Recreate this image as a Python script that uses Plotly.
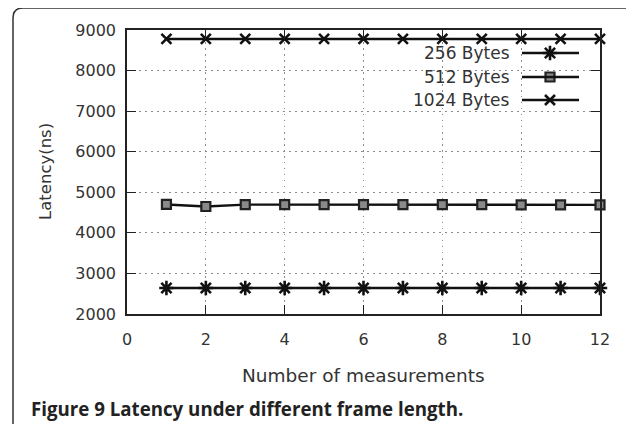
import plotly.graph_objects as go

measurements = list(range(1, 13))
lat_256 = [2640, 2640, 2640, 2640, 2640, 2640, 2640, 2640, 2640, 2640, 2640, 2640]
lat_512 = [4700, 4650, 4695, 4695, 4695, 4695, 4695, 4695, 4695, 4690, 4690, 4690]
lat_1024 = [8780, 8780, 8780, 8780, 8780, 8780, 8780, 8780, 8780, 8780, 8780, 8780]
series_names = ["256 Bytes", "512 Bytes", "1024 Bytes"]
x_ticks = [0, 2, 4, 6, 8, 10, 12]
y_ticks = [2000, 3000, 4000, 5000, 6000, 7000, 8000, 9000]

OFF = 8  # page body margin
W, H = 634 - OFF, 424 - OFF
L, R, T, B = 127 - OFF, 34, 30 - OFF, 110
PW, PH = W - L - R, H - T - B


def px(x):
    return (x - OFF - L) / PW


def py(y):
    return (H - B - (y - OFF)) / PH


LINE_C = "#111111"
markers = [
    dict(symbol="asterisk-open", size=12, line=dict(width=2.6, color=LINE_C), color=LINE_C),
    dict(symbol="square", size=9, color="#8a8a8a", line=dict(width=2.2, color="#222222")),
    dict(symbol="x-thin-open", size=10, line=dict(width=2.6, color=LINE_C), color=LINE_C),
]

fig = go.Figure()
for name, vals, mk in zip(series_names, [lat_256, lat_512, lat_1024], markers):
    fig.add_trace(go.Scatter(
        x=measurements, y=vals, mode="lines+markers", name=name,
        line=dict(color=LINE_C, width=2.4), marker=mk, showlegend=False,
        cliponaxis=False,
    ))

# manual legend (text left, key right)
row_y = [53, 77, 100]
for name, ry, mk in zip(series_names, row_y, markers):
    fig.add_annotation(xref="paper", yref="paper", x=px(512), y=py(ry),
                       text=name, showarrow=False, xanchor="right", yanchor="middle",
                       font=dict(family="DejaVu Sans", size=17, color="#333333"))
    fig.add_shape(type="line", xref="paper", yref="paper", x0=px(522), x1=px(579),
                  y0=py(ry), y1=py(ry), line=dict(color=LINE_C, width=2.4), layer="above")
    fig.add_trace(go.Scatter(x=[px(550)], y=[py(ry)], xaxis="x2", yaxis="y2",
                             mode="markers", marker=mk, showlegend=False,
                             hoverinfo="skip", cliponaxis=False))

# white legend background masking the grid
fig.add_shape(type="rect", xref="paper", yref="paper", x0=px(393), x1=px(599),
              y0=py(113), y1=py(42), fillcolor="white", line=dict(width=0), layer="between")

# outer rounded frame
lx, rx_, ty, by = px(13), px(635), py(8), py(440)
cx, cy = 10 / PW, 10 / PH
path = (f"M {lx},{by} L {lx},{ty - cy} Q {lx},{ty} {lx + cx},{ty} "
        f"L {rx_ - cx},{ty} Q {rx_},{ty} {rx_},{ty - cy} L {rx_},{by}")
fig.add_shape(type="path", xref="paper", yref="paper", path=path,
              line=dict(color="#333333", width=1.5))

# titles and caption
fig.add_annotation(xref="paper", yref="paper", x=0.5, y=py(375), text="Number of measurements",
                   showarrow=False, xanchor="center", yanchor="middle",
                   font=dict(family="DejaVu Sans", size=18.5, color="#333333"))
fig.add_annotation(xref="paper", yref="paper", x=px(45), y=py(172), text="Latency(ns)",
                   showarrow=False, xanchor="center", yanchor="middle", textangle=-90,
                   font=dict(family="DejaVu Sans", size=16.5, color="#333333"))
fig.add_annotation(xref="paper", yref="paper", x=px(29), y=py(408),
                   text="<b>Figure 9</b> <b>Latency under different frame length.</b>",
                   showarrow=False, xanchor="left", yanchor="middle",
                   font=dict(family="Open Sans", size=18.7, color="#222222"))

axis_common = dict(
    showline=True, linecolor="#222222", linewidth=1.5, mirror="ticks",
    ticks="inside", ticklen=9, tickwidth=1.3, tickcolor="#222222",
    showgrid=True, gridcolor="#8c8c8c", griddash="1.5px,4.5px", gridwidth=1.2,
    zeroline=False, tickfont=dict(family="DejaVu Sans", size=16, color="#333333"),
)
fig.update_layout(
    width=W, height=H, margin=dict(l=L, r=R, t=T, b=B),
    paper_bgcolor="white", plot_bgcolor="white",
    xaxis=dict(range=[0, 12], tickvals=x_ticks, ticklabelstandoff=10, **axis_common),
    yaxis=dict(range=[2000, 9000], tickvals=y_ticks, ticklabelstandoff=6, **axis_common),
    xaxis2=dict(overlaying="x", range=[0, 1], visible=False),
    yaxis2=dict(overlaying="y", range=[0, 1], visible=False),
    showlegend=False,
)

fig.write_html("out.html")
